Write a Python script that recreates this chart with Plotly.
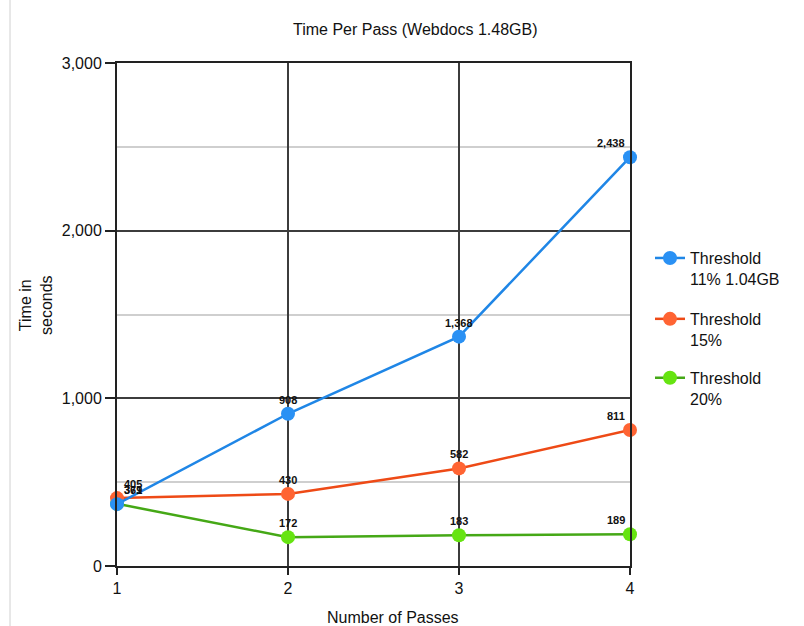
import plotly.graph_objects as go

passes = [1, 2, 3, 4]
series_names = ["Threshold<br>11% 1.04GB", "Threshold<br>15%", "Threshold<br>20%"]
t_11 = [369, 908, 1368, 2438]
t_15 = [405, 430, 582, 811]
t_20 = [371, 172, 183, 189]

line_colors = ["#1F86E6", "#EE4A16", "#45A816"]
marker_colors = ["#2A91F4", "#FF6433", "#66E411"]
legend_ids = ["legend", "legend2", "legend3"]
legend_y = [0.646, 0.525, 0.408]

FONT = "Liberation Sans, Arial, Helvetica, sans-serif"

# plot area in pixels
L, R, T, B = 117, 174, 63, 60
W, H = 804, 626
PW, PH = W - L - R, H - T - B

series = list(zip(series_names, [t_11, t_15, t_20], line_colors, marker_colors, legend_ids))

fig = go.Figure()
# draw the 20% series first so the 11% series sits on top
for name, vals, lc, mc, lg in reversed(series):
    fig.add_trace(go.Scatter(
        x=passes, y=vals, name=name, legend=lg,
        mode="lines+markers",
        line=dict(color=lc, width=2.5),
        marker=dict(color=mc, size=14),
        cliponaxis=False,
    ))

# value labels above each point, kept inside the plot at the ends
annotations = []
for name, vals, lc, mc, lg in series:
    for i, (p, v) in enumerate(zip(passes, vals)):
        if i == 0:
            xa, xs = "left", 5
        elif i == len(passes) - 1:
            xa, xs = "right", -3
        else:
            xa, xs = "center", 0
        annotations.append(dict(
            x=p, y=v, xref="x", yref="y", text=f"{v:,}", showarrow=False,
            xanchor=xa, yanchor="middle", xshift=xs, yshift=14,
            font=dict(family=FONT, size=11, color="#111", weight="bold"),
        ))

annotations += [
    dict(text="Time Per Pass (Webdocs 1.48GB)", xref="paper", yref="paper",
         x=(415 - L) / PW, y=1 + (T - 30) / PH, showarrow=False,
         font=dict(size=16), xanchor="center", yanchor="middle"),
    dict(text="Number of Passes", xref="paper", yref="paper",
         x=(393 - L) / PW, y=-(617 - (T + PH)) / PH, showarrow=False,
         font=dict(size=16), xanchor="center", yanchor="middle"),
    dict(text="Time in<br>seconds", xref="paper", yref="paper",
         x=-(L - 36) / PW, y=(T + PH - 305) / PH, showarrow=False,
         textangle=-90, font=dict(size=16), xanchor="center", yanchor="middle"),
]

legend_common = dict(
    x=(650 - L) / PW, xanchor="left", yanchor="top", valign="top",
    font=dict(family=FONT, size=16, color="#111"),
    bgcolor="rgba(0,0,0,0)", itemwidth=30,
)

fig.update_layout(
    width=W, height=H,
    margin=dict(l=L, r=R, t=T, b=B),
    paper_bgcolor="white", plot_bgcolor="white",
    font=dict(family=FONT, size=16, color="#111"),
    showlegend=True,
    legend=dict(y=legend_y[0], **legend_common),
    legend2=dict(y=legend_y[1], **legend_common),
    legend3=dict(y=legend_y[2], **legend_common),
    xaxis=dict(
        range=[1, 4], tickvals=passes, ticktext=[str(p) for p in passes],
        showgrid=True, gridcolor="#3c3c3c", gridwidth=2,
        showline=True, linecolor="#222", linewidth=2, mirror=True,
        ticks="outside", ticklen=7, tickcolor="#222", tickwidth=1.5,
        zeroline=False, tickfont=dict(size=16),
    ),
    yaxis=dict(
        range=[0, 3000], dtick=1000, tickformat=",d",
        showgrid=True, gridcolor="#3c3c3c", gridwidth=2,
        minor=dict(dtick=500, showgrid=True, gridcolor="#cfcfcf", gridwidth=1.5),
        showline=True, linecolor="#222", linewidth=2, mirror=True,
        ticks="outside", ticklen=10, tickcolor="#222", tickwidth=1.5,
        zeroline=False, tickfont=dict(size=16),
    ),
    annotations=annotations,
    shapes=[
        dict(type="line", xref="paper", yref="paper",
             x0=-(L - 10) / PW, x1=-(L - 10) / PW,
             y0=-B / PH, y1=1 + T / PH,
             line=dict(color="#d0d0d0", width=1)),
    ],
)

fig.write_html("out.html")
